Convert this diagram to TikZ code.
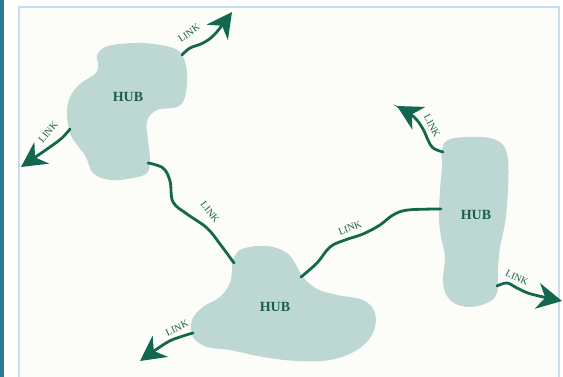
\documentclass[tikz,border=0pt]{standalone}
\usepackage{fontspec}
\setmainfont{Liberation Serif}
\usetikzlibrary{arrows.meta}
\definecolor{hubfill}{HTML}{BDD8D3}
\definecolor{linkc}{HTML}{13674F}
\definecolor{txtc}{HTML}{1B5E4C}
\definecolor{barc}{HTML}{2B7A96}
\definecolor{framec}{HTML}{C6DCEF}
\definecolor{paperc}{HTML}{FCFDF8}
\begin{document}
\begin{tikzpicture}[x=1pt,y=-1pt,
  hub/.style={fill=hubfill,draw=none},
  link/.style={draw=linkc,line width=2.8pt,line cap=round},
  arr/.style={-{Stealth[length=25pt,width=26pt,inset=8pt]}},
  lbl/.style={text=txtc,font=\fontsize{10}{10}\selectfont,inner sep=0pt},
  hubl/.style={text=txtc,font=\fontsize{14}{14}\selectfont\bfseries,inner sep=0pt}]
\useasboundingbox (0,0) rectangle (563,377);
\fill[white] (0,0) rectangle (563,377);
\fill[paperc] (19,7) rectangle (559,380);
\draw[framec,line width=1.5pt] (19,390) -- (19,7) -- (559,7) -- (559,390);
\fill[barc] (0,0) rectangle (3.5,377);

% hubs
\fill[hub] plot[smooth cycle,tension=0.6] coordinates {(97,55) (108,46) (140,43) (170,47) (182,55) (187,73) (185,97) (177,107) (157,110) (147,121) (148,140) (150,160) (147,173) (133,178) (110,180) (93,173) (86,157) (78,146) (70,133) (67,113) (70,97) (80,84) (96,73) (98,63)};
\fill[hub] plot[smooth cycle,tension=0.6] coordinates {(233,260) (240,250) (257,246) (273,247) (287,253) (295,263) (303,277) (317,289) (337,295) (363,300) (375,313) (373,333) (357,350) (330,360) (297,361) (263,357) (230,350) (207,347) (193,337) (192,320) (203,307) (220,297) (230,283) (232,270)};
\fill[hub] plot[smooth cycle,tension=0.6] coordinates {(442,150) (448,140) (467,137) (490,138) (503,145) (508,160) (508,190) (505,223) (500,247) (498,270) (497,293) (487,303) (467,307) (450,300) (443,283) (445,257) (441,237) (439,217) (440,190) (442,167)};

\node[hubl] (h1) at (128,97) {HUB};
\node[hubl] (h2) at (275,307) {HUB};
\node[hubl] (h3) at (476,215) {HUB};

% link endpoints
\coordinate (a0) at (182,55);
\coordinate (a1) at (232,12);
\coordinate (b0) at (70,129);
\coordinate (b1) at (21,167);
\coordinate (c0) at (148,163);
\coordinate (c1) at (234,263);
\coordinate (d0) at (301,277);
\coordinate (d1) at (441,209);
\coordinate (e0) at (443,152);
\coordinate (e1) at (397,106);
\coordinate (f0) at (497,286);
\coordinate (f1) at (562,301);
\coordinate (g0) at (193,333);
\coordinate (g1) at (140,361);

% links
\draw[link,arr] plot[smooth,tension=0.6] coordinates {(a0) (190,48) (203,43) (215,34) (a1)};
\draw[link,arr] plot[smooth,tension=0.6] coordinates {(b0) (62,138) (50,147) (b1)};
\draw[link] plot[smooth,tension=0.6] coordinates {(c0) (163,168) (170,181) (173,202) (187,214) (207,228) (220,244) (c1)};
\draw[link] plot[smooth,tension=0.6] coordinates {(d0) (317,263) (330,247) (345,240) (363,234) (380,225) (393,215) (408,210) (d1)};
\draw[link,arr] plot[smooth,tension=0.6] coordinates {(e0) (433,148) (428,140) (423,129) (414,117) (e1)};
\draw[link,arr] plot[smooth,tension=0.6] coordinates {(f0) (507,283) (517,288) (531,294) (f1)};
\draw[link,arr] plot[smooth,tension=0.6] coordinates {(g0) (180,337) (166,343) (g1)};

% labels
\node[lbl,rotate=35] (la) at (189,33) {LINK};
\node[lbl,rotate=50] (lb) at (48,132) {LINK};
\node[lbl,rotate=-52] (lc) at (210,212) {LINK};
\node[lbl,rotate=22] (ld) at (350,228) {LINK};
\node[lbl,rotate=-62] (le) at (432,126) {LINK};
\node[lbl,rotate=-25] (lf) at (517,278) {LINK};
\node[lbl,rotate=25] (lg) at (177,328) {LINK};
\end{tikzpicture}
\end{document}
